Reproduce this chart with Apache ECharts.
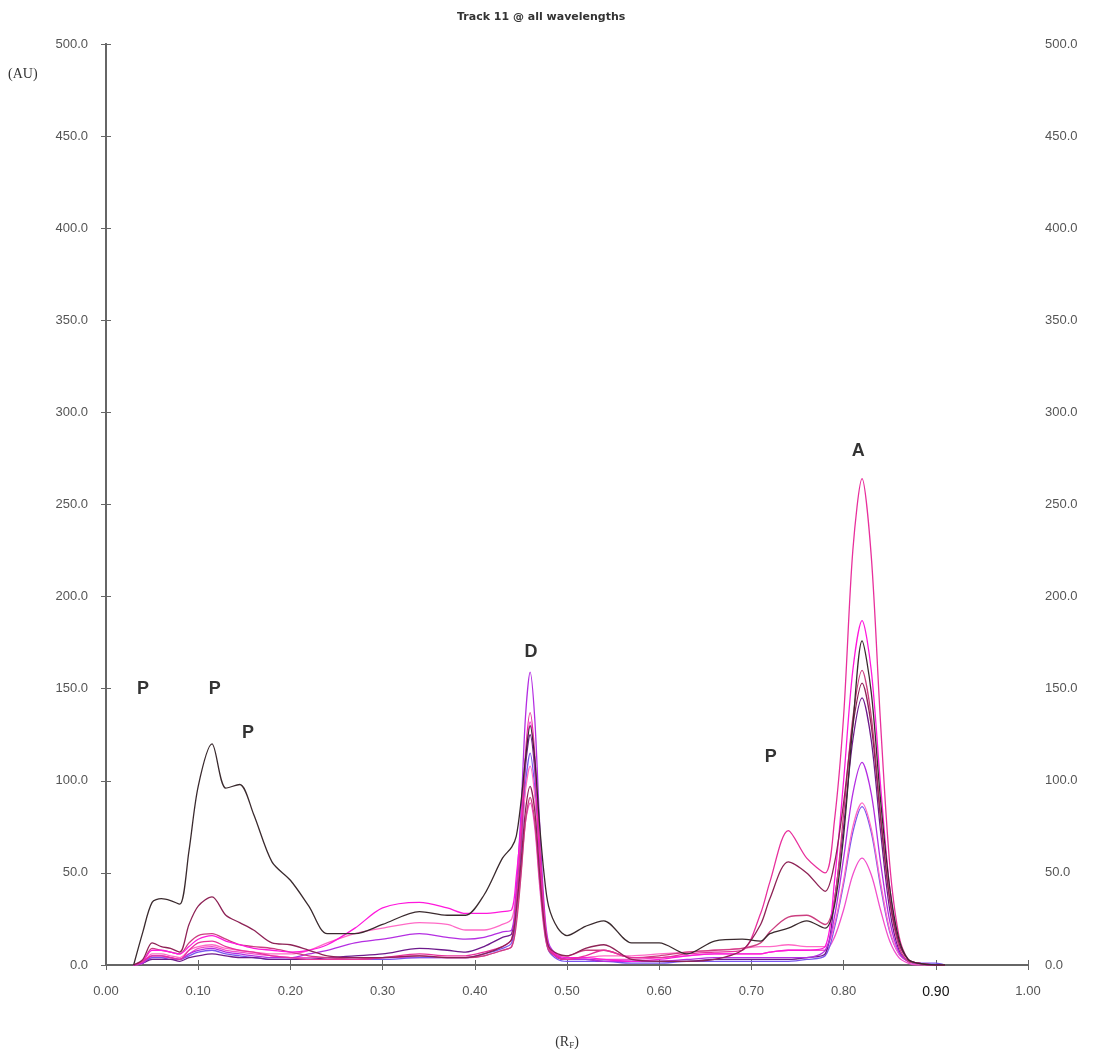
<!DOCTYPE html>
<html>
<head>
<meta charset="utf-8">
<script src="https://cdn.jsdelivr.net/npm/echarts@6/dist/echarts.min.js"></script>
<style>
html, body { margin: 0; padding: 0; background: #fff; }
#main { width: 1115px; height: 1057px; }
</style>
</head>
<body>
<div id="main"></div>
<script>
// Rf positions shared by all tracks
var rf = [0.03, 0.04, 0.05, 0.06, 0.07, 0.08, 0.09, 0.10,
          0.115, 0.13, 0.145, 0.16,
          0.18, 0.20, 0.22, 0.24,
          0.27, 0.30, 0.34, 0.37, 0.39, 0.41, 0.43, 0.44,
          0.445, 0.45, 0.455, 0.46, 0.465, 0.47, 0.475, 0.48,
          0.49, 0.50, 0.52, 0.54, 0.57, 0.60, 0.63, 0.66,
          0.69, 0.71, 0.72, 0.74, 0.76, 0.78, 0.79, 0.80,
          0.81, 0.82, 0.83, 0.84, 0.85, 0.86, 0.87, 0.88,
          0.90, 0.91];

var w1 = [0, 18, 34, 36, 35, 33, 62, 97,
          120, 96, 98, 82,
          56, 46, 32, 17,
          17, 22, 29, 27, 27, 38, 58, 64,
          70, 88, 112, 130, 112, 78, 50, 32,
          20, 16, 21, 24, 12, 12, 6, 13,
          14, 13, 17, 20, 24, 20, 32, 70,
          130, 176, 148, 90, 42, 14, 3, 1,
          0, 0];
var w2 = [0, 3, 12, 10, 9, 7, 22, 32,
          37, 27, 23, 19,
          12, 11, 8, 5,
          4, 4, 5, 4, 4, 6, 10, 14,
          30, 55, 84, 97, 84, 52, 24, 10,
          6, 5, 9, 11, 3, 2, 2, 3,
          8, 22, 36, 56, 50, 40, 55, 88,
          130, 153, 130, 80, 36, 12, 3, 1,
          0, 0];
var w3 = [0, 2, 5, 5, 4, 3, 8, 12,
          13, 10, 8, 7,
          5, 4, 3, 3,
          3, 4, 6, 5, 5, 7, 10, 14,
          35, 68, 115, 137, 115, 68, 30, 10,
          4, 3, 5, 8, 4, 4, 6, 7,
          8, 28, 45, 73, 58, 50, 78, 135,
          225, 264, 222, 132, 55, 16, 3, 1,
          0, 0];
var w4 = [0, 2, 8, 8, 7, 6, 10, 14,
          16, 13, 11, 9,
          8, 7, 8, 11,
          20, 31, 34, 31, 28, 28, 29, 30,
          48, 75, 112, 132, 110, 62, 26, 10,
          5, 4, 4, 3, 2, 3, 5, 6,
          6, 6, 7, 8, 8, 10, 45, 100,
          160, 187, 160, 98, 42, 12, 3, 1,
          0, 0];
var w5 = [0, 2, 9, 8, 7, 6, 12, 16,
          17, 14, 11, 10,
          9, 7, 5, 4,
          3, 4, 5, 4, 4, 5, 8, 10,
          22, 48, 78, 91, 78, 48, 22, 8,
          5, 5, 8, 8, 4, 5, 7, 8,
          9, 12, 18, 26, 27, 22, 35, 82,
          134, 160, 135, 82, 35, 10, 2, 1,
          0, 0];
var w6 = [0, 1, 5, 5, 4, 3, 6, 8,
          9, 7, 6, 5,
          4, 4, 6, 8,
          12, 14, 17, 15, 14, 15, 18, 19,
          42, 82, 135, 159, 134, 80, 34, 12,
          5, 3, 3, 2, 2, 2, 3, 4,
          4, 4, 4, 4, 4, 8, 26, 58,
          93, 110, 93, 56, 24, 7, 2, 1,
          0, 0];
var w7 = [0, 1, 3, 3, 3, 2, 4, 5,
          6, 5, 4, 4,
          3, 3, 3, 4,
          5, 6, 9, 8, 7, 10, 15, 17,
          35, 66, 108, 125, 106, 64, 28, 10,
          4, 3, 3, 2, 2, 2, 2, 3,
          3, 3, 3, 3, 4, 6, 35, 75,
          122, 145, 122, 73, 30, 8, 2, 1,
          0, 0];
var w8 = [0, 1, 6, 6, 5, 4, 8, 10,
          11, 9, 8, 7,
          6, 6, 8, 12,
          17, 20, 23, 22, 19, 19, 22, 25,
          40, 65, 95, 108, 92, 55, 24, 9,
          4, 3, 4, 5, 5, 6, 7, 8,
          9, 10, 10, 11, 10, 10, 22, 46,
          75, 88, 74, 45, 19, 6, 2, 1,
          0, 0];
var w9 = [0, 1, 4, 4, 3, 3, 5, 7,
          8, 6, 5, 4,
          3, 3, 3, 3,
          3, 3, 4, 4, 4, 6, 9, 12,
          30, 60, 98, 115, 96, 58, 24, 8,
          3, 2, 2, 2, 1, 1, 2, 2,
          2, 2, 2, 2, 3, 5, 20, 44,
          72, 86, 72, 43, 18, 6, 2, 1,
          1, 0];
var w10 = [0, 1, 4, 4, 4, 3, 6, 9,
          10, 8, 7, 6,
          5, 4, 4, 4,
          3, 4, 4, 4, 4, 5, 8, 10,
          25, 50, 78, 88, 75, 45, 20, 8,
          4, 3, 3, 3, 3, 4, 5, 6,
          6, 6, 7, 8, 8, 8, 15, 30,
          49, 58, 49, 30, 13, 4, 1, 0,
          0, 0];

var tracks = [w1, w2, w3, w4, w5, w6, w7, w8, w9, w10];
var colors = ['#3a2a2e', '#8e2356', '#e8309c', '#ff18dc', '#cc3f80',
              '#b42ee2', '#6e1a8c', '#ff6ac6', '#7a55ee', '#f24fcb'];

// peak labels
var annoText = ['P', 'P', 'P', 'D', 'P', 'A'];
var annoX = [0.040, 0.118, 0.154, 0.461, 0.721, 0.816];
var annoY = [150, 150, 126, 170, 113, 279];

var chart = echarts.init(document.getElementById('main'));

var series = [];
// draw from the back so the dark trace sits on top
for (var i = tracks.length - 1; i >= 0; i--) {
    (function (vals, col) {
        series.push({
            type: 'line',
            smooth: 0.3,
            showSymbol: false,
            silent: true,
            lineStyle: { color: col, width: 1.3 },
            data: rf.map(function (x, k) { return [x, vals[k]]; })
        });
    })(tracks[i], colors[i]);
}
series.push({
    type: 'scatter',
    symbolSize: 0,
    silent: true,
    label: {
        show: true,
        position: 'inside',
        formatter: function (p) { return p.data[2]; },
        color: '#000',
        fontFamily: 'Liberation Sans',
        fontWeight: 'bold',
        fontSize: 18
    },
    data: annoText.map(function (t, k) { return [annoX[k], annoY[k], t]; })
});

var axisLine = { show: true, lineStyle: { color: '#666', width: 2 } };
var axisTick = { show: true, length: 5, lineStyle: { color: '#666', width: 1 } };
var tickFont = { color: '#555', fontFamily: 'Liberation Sans', fontSize: 13 };

option = {
    animation: false,
    backgroundColor: '#fff',
    title: {
        text: 'Track 11 @ all wavelengths',
        left: 452,
        top: 7,
        textStyle: { fontFamily: 'DejaVu Sans', fontWeight: 'bold', fontSize: 11, color: '#333' }
    },
    grid: { left: 106, right: 87, top: 44, bottom: 92 },
    xAxis: [
        {
            type: 'value', min: 0, max: 1, interval: 0.1, position: 'bottom',
            axisLine: axisLine, axisTick: axisTick, splitLine: { show: false },
            axisLabel: {
                margin: 20,
                color: tickFont.color, fontFamily: tickFont.fontFamily, fontSize: 13,
                formatter: function (v) {
                    var s = v.toFixed(2);
                    return Math.abs(v - 0.9) < 1e-6 ? '{b|' + s + '}' : s;
                },
                rich: { b: { color: '#111', fontFamily: 'Liberation Sans', fontSize: 14 } }
            },
            name: '(R{s|F})',
            nameLocation: 'middle',
            nameGap: 70,
            nameTextStyle: {
                fontFamily: 'Liberation Serif', fontSize: 14, color: '#333',
                rich: { s: { fontFamily: 'Liberation Serif', fontSize: 9, color: '#333', verticalAlign: 'bottom', padding: [6, 0, 0, 0] } }
            }
        },
        {
            type: 'value', min: 0, max: 1, interval: 0.1, position: 'top',
            axisLine: axisLine, axisTick: axisTick, splitLine: { show: false },
            axisLabel: { show: false }
        }
    ],
    yAxis: [
        {
            type: 'value', min: 0, max: 500, interval: 50, position: 'left',
            axisLine: axisLine, axisTick: axisTick, splitLine: { show: false },
            axisLabel: {
                margin: 18,
                color: tickFont.color, fontFamily: tickFont.fontFamily, fontSize: 13,
                formatter: function (v) { return v.toFixed(1); }
            }
        },
        {
            type: 'value', min: 0, max: 500, interval: 50, position: 'right',
            axisLine: axisLine, axisTick: axisTick, splitLine: { show: false },
            axisLabel: {
                margin: 17,
                color: tickFont.color, fontFamily: tickFont.fontFamily, fontSize: 13,
                formatter: function (v) { return v.toFixed(1); }
            }
        }
    ],
    graphic: [
        {
            type: 'text', left: 8, top: 67,
            style: { text: '(AU)', fontFamily: 'Liberation Serif', fontSize: 14, fill: '#333' }
        }
    ],
    series: series
};

chart.setOption(option);
</script>
</body>
</html>
